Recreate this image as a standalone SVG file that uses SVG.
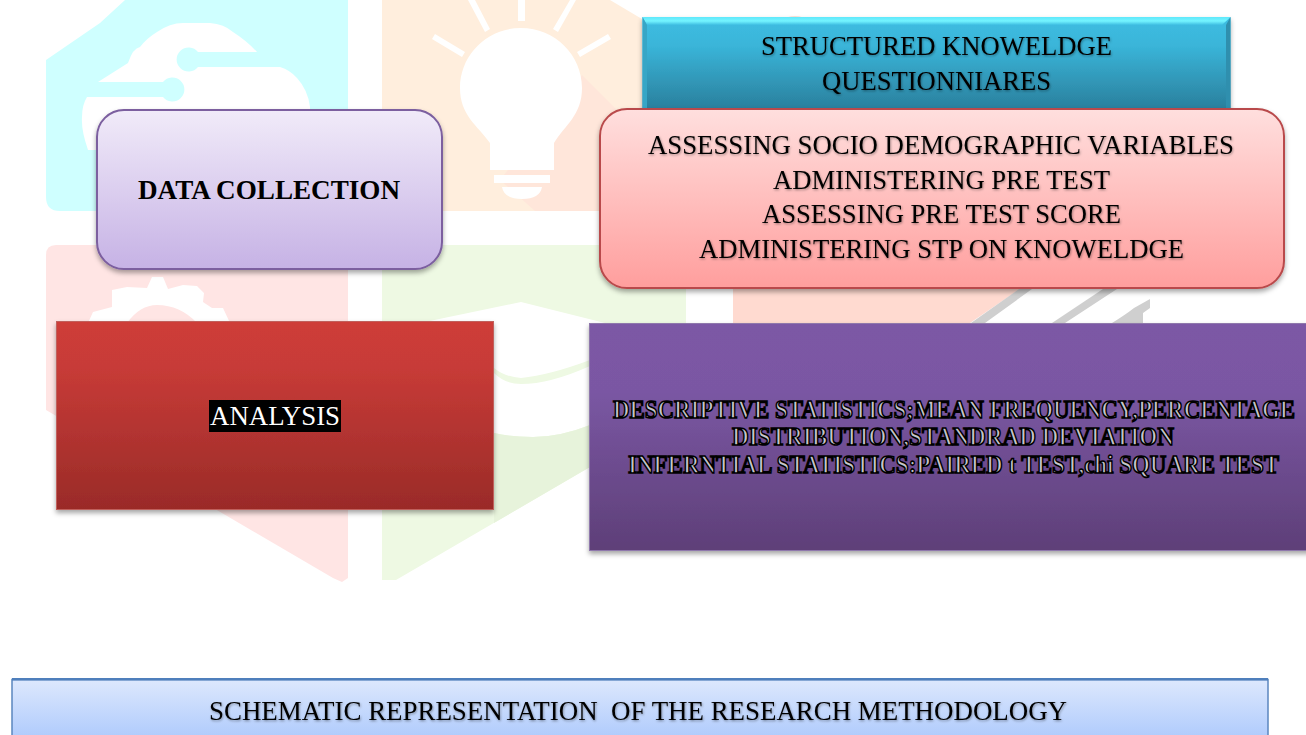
<svg xmlns="http://www.w3.org/2000/svg" width="1306" height="735" viewBox="0 0 1306 735">
<style>
text{font-family:"Liberation Serif","Times New Roman",serif;font-size:27.5px;fill:#000;text-anchor:start}
.b{font-weight:bold}
.sh{filter:url(#ts)}
.o{font-weight:bold;font-size:26px;fill:#c8c8cc;stroke:#000;stroke-width:1.6px}
.w{fill:#fff}
</style>
<defs>
<filter id="bs" x="-5%" y="-10%" width="110%" height="125%"><feDropShadow dx="0" dy="3" stdDeviation="2.5" flood-color="#000" flood-opacity=".35"/></filter>
<filter id="ts" x="-5%" y="-20%" width="110%" height="150%"><feDropShadow dx=".7" dy="1.2" stdDeviation=".9" flood-color="#000" flood-opacity=".38"/></filter>
<linearGradient id="gTeal" x1="0" y1="0" x2="0" y2="1"><stop offset="0" stop-color="#3dbde2"/><stop offset=".3" stop-color="#3ab5d9"/><stop offset="1" stop-color="#297d9a"/></linearGradient>
<linearGradient id="gTop" x1="0" y1="0" x2="0" y2="1"><stop offset="0" stop-color="#5fe8fb"/><stop offset=".5" stop-color="#74f4ff"/><stop offset="1" stop-color="#3dbde2"/></linearGradient>
<linearGradient id="gPink" x1="0" y1="0" x2="0" y2="1"><stop offset="0" stop-color="#ffdfde"/><stop offset="1" stop-color="#ff9e9d"/></linearGradient>
<linearGradient id="gLav" x1="0" y1="0" x2="0" y2="1"><stop offset="0" stop-color="#f1ebf9"/><stop offset="1" stop-color="#c6b2e5"/></linearGradient>
<linearGradient id="gRed" x1="0" y1="0" x2="0" y2="1"><stop offset="0" stop-color="#ce3c37"/><stop offset=".25" stop-color="#c73b37"/><stop offset="1" stop-color="#9a2b28"/></linearGradient>
<linearGradient id="gPur" x1="0" y1="0" x2="0" y2="1"><stop offset="0" stop-color="#7c58a5"/><stop offset=".3" stop-color="#7a57a3"/><stop offset="1" stop-color="#5e3f78"/></linearGradient>
<linearGradient id="gBlue" x1="0" y1="0" x2="0" y2="1"><stop offset="0" stop-color="#dde8fd"/><stop offset="1" stop-color="#a6c5fc"/></linearGradient>
</defs>
<rect width="1306" height="735" fill="#fff"/>
<g id="watermark">
<path d="M46 60L100 23L125 0H348V211H60Q46 211 46 197Z" fill="#cfffff"/>
<path d="M98 82L128 63Q133 48 140 47Q147 38 157 32Q170 23 183 23H210Q224 24 233 32Q247 41 257 52H198A12 12 0 1 0 198 67H280Q290 70 297 78Q308 90 310 107V150H88Q81 130 82 117Q82 105 87 97H163A12 12 0 1 0 163 82Z" class="w"/>
<path d="M382 0H610L642 19V211H382Z" fill="#ffeedd"/>
<path d="M582 75L642 135V211H535L500 180Z" fill="#ffe6da"/>
<path d="M521 28C555 28 582 55 582 88C582 115 565 125 554 143V170H490V143C477 125 460 115 460 88C460 55 487 28 521 28ZM494 175H550V183H494ZM502 187H542Q540 199 522 199Q504 199 502 187ZM518 0H525V21H518ZM468 0H475L490 29L485 32ZM570 0H576L558 32L553 29ZM435 34L465 52L462 57L432 39ZM608 34L611 39L580 57L577 52Z" class="w"/>
<ellipse cx="795" cy="31" rx="20" ry="15" fill="#fde3d8"/>
<path d="M46 255Q46 245 56 245H348V578L342 582L333 578L46 410Z" fill="#ffe5e4"/>
<path d="M88 323L93 312L112 307V290L127 287L147 288L152 277H163L168 289L183 285L197 286L204 293L203 302L212 308H223L230 323H197Q180 305 157 305Q140 305 127 323Z" class="w"/>
<path d="M382 245H686V411L396 580H382Z" fill="#eef9e3"/>
<path d="M420 323L521 302L605 323L590 360Q550 375 521 378Q505 377 494 368Z" class="w"/>
<path d="M494 373Q505 384 521 384Q550 384 590 366V425Q560 437 533 437Q510 437 494 433Z" class="w"/>
<path d="M494 433Q510 437 533 437Q560 437 590 425V467L494 523Z" fill="#e7f3db"/>
<path d="M733 289H1020L970 323H733Z" fill="#ffdad0"/>
<path d="M1019 289H1032L985 323H971ZM1103 289H1117L1065 323H1052ZM1150 299V308L1143 313V323H1112Q1125 315 1134 308Z" fill="#cfcfcf"/>
</g>
<g id="node-structured">
<rect x="642.500" y="17" width="588" height="95" fill="url(#gTeal)" filter="url(#bs)"/>
<path d="M642.500 17H1230.500L1222 25H647Z" fill="url(#gTop)"/>
<path d="M642.500 17L647 25V112H642.500Z" fill="#37a6c6"/>
<path d="M1230.500 17L1226 25V112H1230.500Z" fill="#2f8fae"/>
<text class="sh" x="761" y="55" textLength="351" lengthAdjust="spacingAndGlyphs">STRUCTURED KNOWELDGE</text>
<text class="sh" x="822" y="90" textLength="229" lengthAdjust="spacingAndGlyphs">QUESTIONNIARES</text>
</g>
<g id="node-assessing">
<rect x="600" y="109" width="684" height="179" rx="27" fill="url(#gPink)" stroke="#b94a4b" stroke-width="2" filter="url(#bs)"/>
<text class="sh" x="648" y="154" textLength="586" lengthAdjust="spacingAndGlyphs">ASSESSING SOCIO DEMOGRAPHIC VARIABLES</text>
<text class="sh" x="773" y="189" textLength="337" lengthAdjust="spacingAndGlyphs">ADMINISTERING PRE TEST</text>
<text class="sh" x="762" y="223" textLength="359" lengthAdjust="spacingAndGlyphs">ASSESSING PRE TEST SCORE</text>
<text class="sh" x="699" y="258" textLength="485" lengthAdjust="spacingAndGlyphs">ADMINISTERING STP ON KNOWELDGE</text>
</g>
<g id="node-data-collection">
<rect x="97" y="110" width="345" height="159" rx="27" fill="url(#gLav)" stroke="#7b5e9f" stroke-width="2" filter="url(#bs)"/>
<text class="b" x="138" y="199" textLength="262" lengthAdjust="spacingAndGlyphs">DATA COLLECTION</text>
</g>
<g id="node-analysis">
<rect x="56.500" y="321.500" width="437" height="188" fill="url(#gRed)" stroke="#c0605c" filter="url(#bs)"/>
<rect x="209" y="400" width="132" height="32" fill="#000"/>
<text x="210" y="425" textLength="130" lengthAdjust="spacingAndGlyphs" style="fill:#fff">ANALYSIS</text>
</g>
<g id="node-statistics">
<rect x="589.500" y="323.500" width="730" height="227" fill="url(#gPur)" stroke="#8f78ac" filter="url(#bs)"/>
<text class="o" transform="translate(613 418) scale(.88 1)" textLength="775" lengthAdjust="spacingAndGlyphs">DESCRIPTIVE STATISTICS;MEAN FREQUENCY,PERCENTAGE</text>
<text class="o" transform="translate(732 445) scale(.88 1)" textLength="502.300" lengthAdjust="spacingAndGlyphs">DISTRIBUTION,STANDRAD DEVIATION</text>
<text class="o" transform="translate(628 473) scale(.88 1)" textLength="739.800" lengthAdjust="spacingAndGlyphs">INFERNTIAL STATISTICS:PAIRED t TEST,chi SQUARE TEST</text>
</g>
<g id="node-caption">
<rect x="12" y="679.500" width="1256" height="70" fill="url(#gBlue)" stroke="#5b86bf" stroke-width="1.500"/>
<rect x="12" y="678" width="1256" height="2.500" fill="#4f7fbc"/>
<text class="sh" x="209" y="720" textLength="858" lengthAdjust="spacingAndGlyphs" xml:space="preserve" style="font-size:28px">SCHEMATIC REPRESENTATION  OF THE RESEARCH METHODOLOGY</text>
</g>
</svg>
